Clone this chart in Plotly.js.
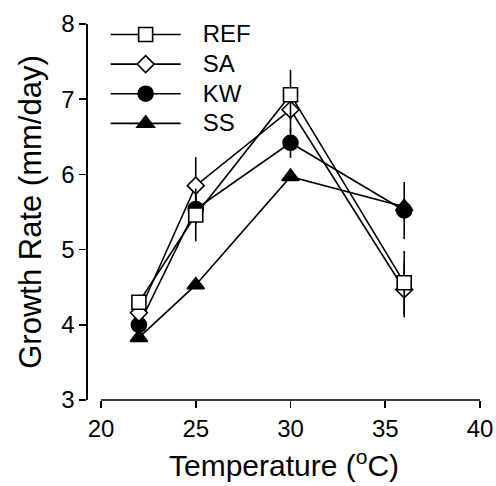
<!DOCTYPE html>
<html>
<head>
<meta charset="utf-8">
<script src="https://cdn.plot.ly/plotly-3.0.1.min.js"></script>
<style>html,body{margin:0;padding:0;background:#fff;}#chart{width:496px;height:486px;}</style>
</head>
<body>
<div id="chart"></div>
<script>
const temperature = [22, 25, 30, 36];

const refValues = [4.30, 5.46, 7.06, 4.56];
const refErrors = [0.06, 0.35, 0.33, 0.42];

const saValues = [4.16, 5.85, 6.86, 4.47];
const saErrors = [0.05, 0.38, 0.30, 0.37];

const kwValues = [4.00, 5.54, 6.42, 5.52];
const kwErrors = [0.04, 0.20, 0.20, 0.38];

const ssValues = [3.83, 4.53, 5.97, 5.57];
const ssErrors = [0.03, 0.05, 0.05, 0.10];

const seriesNames = ['REF', 'SA', 'KW', 'SS'];
const xTicks = [20, 25, 30, 35, 40];
const yTicks = [3, 4, 5, 6, 7, 8];

function label(name) {
  return '\u00a0\u00a0\u00a0<span style="font-size:24px">' + name + '</span>';
}

function series(name, y, err, symbol, fill, size) {
  return {
    x: temperature, y: y, name: label(name), type: 'scatter', mode: 'lines+markers',
    line: {color: '#000', width: 1.6},
    marker: {symbol: symbol, size: size, color: fill, line: {color: '#000', width: 1.6}},
    error_y: {type: 'data', array: err, visible: true, color: '#000', thickness: 1.6, width: 0}
  };
}

const data = [
  series(seriesNames[3], ssValues, ssErrors, 'triangle-up', '#000', 15),
  series(seriesNames[2], kwValues, kwErrors, 'circle', '#000', 15),
  series(seriesNames[1], saValues, saErrors, 'diamond', '#fff', 13),
  series(seriesNames[0], refValues, refErrors, 'square', '#fff', 14)
];

const xmin = 19.314, xmax = 40;
const layout = {
  width: 496, height: 486,
  margin: {l: 88, r: 16, t: 24, b: 86},
  paper_bgcolor: '#fff', plot_bgcolor: '#fff',
  font: {family: 'Liberation Sans, Arial, sans-serif', color: '#000', size: 24},
  showlegend: true,
  legend: {
    x: 0.045, y: 1.025, xanchor: 'left', yanchor: 'top',
    traceorder: 'reversed', itemwidth: 70,
    font: {size: 20.5}, bgcolor: 'rgba(0,0,0,0)', tracegroupgap: 0
  },
  xaxis: {
    range: [xmin, xmax], tickvals: xTicks, ticks: 'outside', ticklen: 7, tickwidth: 1.6,
    tickcolor: '#000', showline: false, showgrid: false, zeroline: false,
    tickfont: {size: 24},
    title: {text: 'Temperature (<sup>o</sup>C)', font: {size: 30}, standoff: 14}
  },
  yaxis: {
    range: [3, 8], tickvals: yTicks, ticks: 'outside', ticklen: 7, tickwidth: 1.6,
    tickcolor: '#000', showline: true, linecolor: '#000', linewidth: 1.6,
    showgrid: false, zeroline: false, tickfont: {size: 24},
    title: {text: 'Growth Rate (mm/day)', font: {size: 31}, standoff: 10}
  },
  shapes: [{
    type: 'line', xref: 'paper', yref: 'paper',
    x0: (20 - xmin) / (xmax - xmin), x1: 1, y0: 0, y1: 0,
    line: {color: '#000', width: 1.6}
  }]
};

Plotly.newPlot('chart', data, layout, {displayModeBar: false, staticPlot: true});
</script>
</body>
</html>
